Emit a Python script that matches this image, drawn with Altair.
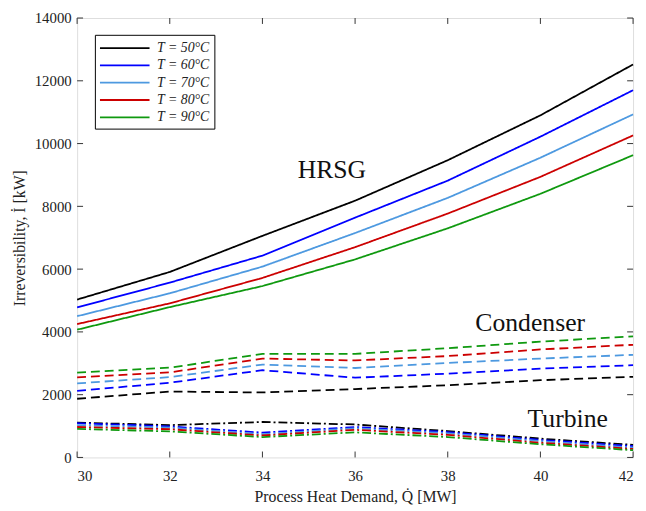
import altair as alt
import pandas as pd

q_demand = [30, 32, 34, 36, 38, 40, 42]
temps = ["T = 50°C", "T = 60°C", "T = 70°C", "T = 80°C", "T = 90°C"]
colors = ["#000000", "#0000ff", "#4d99e0", "#cc0000", "#0f990f"]

hrsg = [
    [5030, 5910, 7060, 8180, 9470, 10900, 12520],
    [4780, 5570, 6430, 7640, 8820, 10220, 11700],
    [4500, 5230, 6080, 7150, 8270, 9550, 10930],
    [4250, 4910, 5720, 6700, 7770, 8940, 10260],
    [4070, 4790, 5460, 6310, 7300, 8400, 9630],
]
condenser = [
    [1870, 2100, 2070, 2180, 2300, 2460, 2570],
    [2120, 2380, 2780, 2540, 2670, 2830, 2940],
    [2360, 2560, 2960, 2850, 3010, 3150, 3270],
    [2550, 2710, 3150, 3090, 3230, 3440, 3590],
    [2700, 2860, 3300, 3300, 3480, 3690, 3860],
]
turbine = [
    [1110, 1030, 1130, 1050, 840, 600, 400],
    [1090, 990, 790, 970, 810, 560, 360],
    [1030, 950, 740, 930, 770, 520, 310],
    [970, 900, 700, 880, 720, 470, 270],
    [910, 830, 650, 800, 650, 420, 230],
]
components = ["HRSG", "Condenser", "Turbine"]
dashes = [[1, 0], [9, 5], [9, 3, 2, 3]]

ann_text = ["HRSG", "Condenser", "Turbine"]
ann_x = [35.5, 39.78, 40.59]
ann_y = [9150, 4270, 1230]

x_ticks = [30, 32, 34, 36, 38, 40, 42]
y_ticks = [0, 2000, 4000, 6000, 8000, 10000, 12000, 14000]

rows = []
for comp, data in zip(components, [hrsg, condenser, turbine]):
    for t, vals in zip(temps, data):
        for q, v in zip(q_demand, vals):
            rows.append({"Q": q, "I": v, "T": t, "Comp": comp, "key": comp + t})
df = pd.DataFrame(rows)

W, H = 563, 445
FONT = "Liberation Serif"

xscale = alt.Scale(domain=[30, 42], nice=False, zero=False)
yscale = alt.Scale(domain=[0, 14000], nice=False)

lines = alt.Chart(df).mark_line(strokeWidth=1.8).encode(
    x=alt.X("Q:Q", scale=xscale,
            axis=alt.Axis(values=x_ticks, title="Process Heat Demand, Q̇ [MW]",
                          format="d",
                          ticks=False, domain=False, grid=False, labelPadding=11,
                          labelFontSize=15, titleFontSize=16, titleFontWeight="normal",
                          labelFont=FONT, titleFont=FONT, labelColor="#222",
                          titleColor="#222", titlePadding=6)),
    y=alt.Y("I:Q", scale=yscale,
            axis=alt.Axis(values=y_ticks, title="Irreversibility, İ [kW]",
                          format="d",
                          ticks=False, domain=False, grid=False, labelPadding=6,
                          labelFontSize=15, titleFontSize=16, titleFontWeight="normal",
                          labelFont=FONT, titleFont=FONT, labelColor="#222",
                          titleColor="#222", titlePadding=7)),
    color=alt.Color("T:N", scale=alt.Scale(domain=temps, range=colors),
                    legend=alt.Legend(title=None, orient="none", legendX=18, legendY=17,
                                      symbolType="M-1,0H5", symbolSize=280,
                                      symbolStrokeWidth=1.8, labelFont=FONT,
                                      labelFontSize=14, labelFontStyle="italic",
                                      labelOffset=40,
                                      strokeColor="black", fillColor="white",
                                      padding=4, rowPadding=0.5, labelColor="#222")),
    strokeDash=alt.StrokeDash("Comp:N", scale=alt.Scale(domain=components, range=dashes),
                              legend=None),
    detail="key:N",
)

ann_df = pd.DataFrame({"text": ann_text, "x": ann_x, "y": ann_y})
ann = alt.Chart(ann_df).mark_text(font=FONT, fontSize=26, baseline="middle",
                                  align="center", color="#111").encode(
    x=alt.X("x:Q", scale=xscale), y=alt.Y("y:Q", scale=yscale), text="text:N")

xt = pd.DataFrame({"x": x_ticks})
yt = pd.DataFrame({"y": y_ticks})
tick_color = "#333"
xb = alt.Chart(xt).mark_rule(color=tick_color).encode(
    x=alt.X("x:Q", scale=xscale), y=alt.value(H), y2=alt.value(H - 6))
xtp = alt.Chart(xt).mark_rule(color=tick_color).encode(
    x=alt.X("x:Q", scale=xscale), y=alt.value(0), y2=alt.value(6))
yl = alt.Chart(yt).mark_rule(color=tick_color).encode(
    y=alt.Y("y:Q", scale=yscale), x=alt.value(0), x2=alt.value(6))
yr = alt.Chart(yt).mark_rule(color=tick_color).encode(
    y=alt.Y("y:Q", scale=yscale), x=alt.value(W), x2=alt.value(W - 6))

chart = alt.layer(xb, xtp, yl, yr, lines, ann).properties(
    width=W, height=H,
    autosize=alt.AutoSizeParams(type="none"),
    padding={"left": 70, "top": 7, "right": 5, "bottom": 45},
).configure_view(stroke="#262626", strokeWidth=1.2).configure(background="white")

chart.save("out.html", embed_options={"renderer": "svg", "actions": False})
